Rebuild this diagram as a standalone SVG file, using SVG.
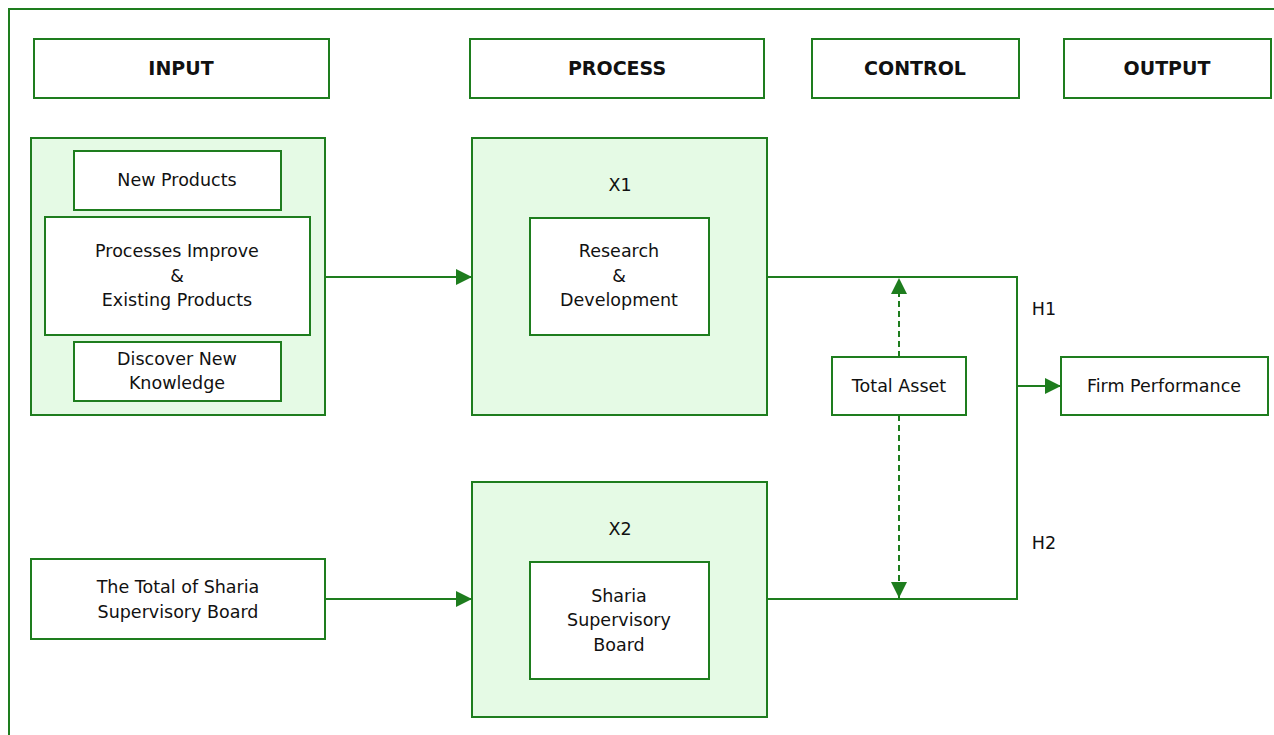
<svg xmlns="http://www.w3.org/2000/svg" width="1274" height="735" viewBox="0 0 1274 735">
<style>
.b{fill:#ffffff;stroke:#1e7d1e;stroke-width:2}
.g{fill:#e5fae5;stroke:#1e7d1e;stroke-width:2}
.t{font-family:"DejaVu Sans",Verdana,sans-serif;font-size:17.5px;fill:#111;text-anchor:middle}
.h{font-family:"DejaVu Sans",Verdana,sans-serif;font-size:19px;font-weight:bold;fill:#111;text-anchor:middle}
.c{fill:none;stroke:#1e7d1e;stroke-width:2}
.d{fill:none;stroke:#1e7d1e;stroke-width:2;stroke-dasharray:6,4}
</style>
<defs>
<marker id="ar2" viewBox="0 0 10 10" refX="10" refY="5" markerWidth="16" markerHeight="16" markerUnits="userSpaceOnUse" orient="auto">
<path d="M0,0 L10,5 L0,10 z" fill="#1e7d1e"/>
</marker>
</defs>
<rect x="9" y="9" width="1275" height="740" fill="none" stroke="#1e7d1e" stroke-width="2"/>
<g id="hdr-input"><rect class="b" x="34" y="39" width="295" height="59"/><text class="h" x="181" y="75">INPUT</text></g>
<g id="hdr-process"><rect class="b" x="470" y="39" width="294" height="59"/><text class="h" x="617" y="75">PROCESS</text></g>
<g id="hdr-control"><rect class="b" x="812" y="39" width="207" height="59"/><text class="h" x="915" y="75">CONTROL</text></g>
<g id="hdr-output"><rect class="b" x="1064" y="39" width="207" height="59"/><text class="h" x="1167" y="75">OUTPUT</text></g>
<g id="input-group"><rect class="g" x="31" y="138" width="294" height="277"/></g>
<g id="new-products"><rect class="b" x="74" y="151" width="207" height="59"/><text class="t" x="177" y="186">New Products</text></g>
<g id="processes-improve"><rect class="b" x="45" y="217" width="265" height="118"/><text class="t" x="177" y="257">Processes Improve</text><text class="t" x="177" y="282">&amp;</text><text class="t" x="177" y="306">Existing Products</text></g>
<g id="discover"><rect class="b" x="74" y="342" width="207" height="59"/><text class="t" x="177" y="365">Discover New</text><text class="t" x="177" y="389">Knowledge</text></g>
<g id="x1"><rect class="g" x="472" y="138" width="295" height="277"/><text class="t" x="620" y="191">X1</text></g>
<g id="rd"><rect class="b" x="530" y="218" width="179" height="117"/><text class="t" x="619" y="257">Research</text><text class="t" x="619" y="282">&amp;</text><text class="t" x="619" y="306">Development</text></g>
<g id="x2"><rect class="g" x="472" y="482" width="295" height="235"/><text class="t" x="620" y="535">X2</text></g>
<g id="ssb"><rect class="b" x="530" y="562" width="179" height="117"/><text class="t" x="619" y="602">Sharia</text><text class="t" x="619" y="626">Supervisory</text><text class="t" x="619" y="651">Board</text></g>
<g id="total-ssb"><rect class="b" x="31" y="559" width="294" height="80"/><text class="t" x="178" y="593">The Total of Sharia</text><text class="t" x="178" y="618">Supervisory Board</text></g>
<g id="total-asset"><rect class="b" x="832" y="357" width="134" height="58"/><text class="t" x="899" y="392">Total Asset</text></g>
<g id="firm-performance"><rect class="b" x="1061" y="357" width="207" height="58"/><text class="t" x="1164" y="392">Firm Performance</text></g>
<g id="connectors">
<line class="c" x1="325" y1="277" x2="472" y2="277" marker-end="url(#ar2)"/>
<line class="c" x1="325" y1="599" x2="472" y2="599" marker-end="url(#ar2)"/>
<polyline class="c" points="767,277 1017,277 1017,599 767,599"/>
<line class="c" x1="1017" y1="386" x2="1061" y2="386" marker-end="url(#ar2)"/>
<line class="d" x1="899" y1="357" x2="899" y2="278" marker-end="url(#ar2)"/>
<line class="d" x1="899" y1="415" x2="899" y2="598" marker-end="url(#ar2)"/>
<text class="t" x="1044" y="315">H1</text>
<text class="t" x="1044" y="549">H2</text>
</g>
</svg>
